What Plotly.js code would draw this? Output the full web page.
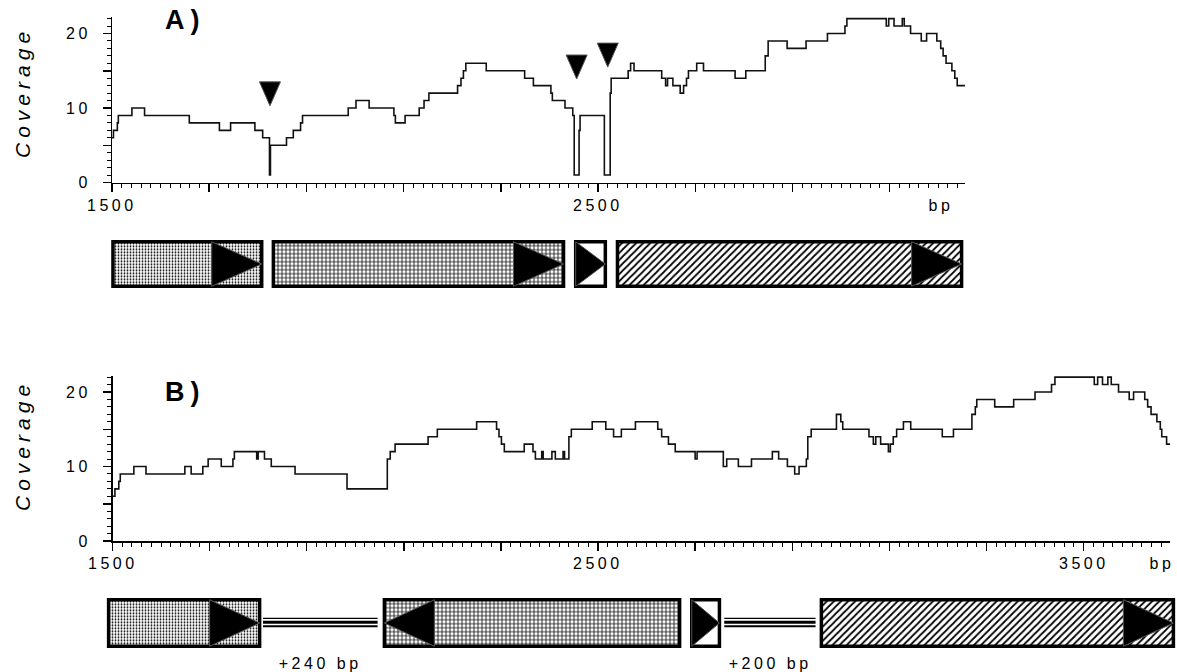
<!DOCTYPE html>
<html>
<head>
<meta charset="utf-8">
<script src="https://cdn.plot.ly/plotly-3.0.1.min.js"></script>
<style>
html,body{margin:0;padding:0;background:#fff;}
#chart{width:1177px;height:672px;}
.annotation text{letter-spacing:3.5px;}
.annotation[data-index="0"] text,.annotation[data-index="1"] text{letter-spacing:6px;}
.annotation[data-index="2"] text,.annotation[data-index="3"] text{letter-spacing:5px;}
</style>
</head>
<body>
<div id="chart"></div>
<script>
// ---------------- DATA ----------------
// Panel A coverage: step start position (bp) and coverage value
const topPos = [1500,1503,1511,1513,1541,1567,1659,1721,1744,1794,1810,1824,1826,1859,1873,1888,1892,1986,2002,2029,2080,2083,2103,2132,2142,2152,2211,2218,2223,2228,2270,2349,2367,2403,2406,2432,2448,2451,2461,2463,2513,2525,2527,2562,2567,2574,2631,2639,2643,2654,2669,2676,2682,2686,2703,2717,2782,2804,2844,2850,2889,2928,2972,3008,3012,3093,3098,3109,3126,3130,3143,3165,3176,3197,3205,3210,3216,3228,3234,3239,3255];
const topCov = [6,7,8,9,10,9,8,7,8,7,6,1,5,6,7,8,9,10,11,10,9,8,9,10,11,12,13,14,15,16,15,14,13,12,11,10,9,1,7,9,1,12,14,15,16,15,14,13,14,13,12,13,14,15,16,15,14,15,17,19,18,19,20,21,22,21,22,21,22,21,20,19,20,19,18,17,16,15,14,13,13];

// Panel B coverage
const botPos = [1500,1505,1513,1516,1544,1569,1649,1662,1686,1697,1724,1748,1751,1797,1800,1813,1827,1876,1983,2066,2072,2082,2150,2169,2250,2291,2296,2301,2307,2348,2366,2371,2384,2387,2405,2412,2428,2431,2440,2445,2488,2516,2532,2548,2577,2623,2631,2645,2659,2700,2704,2758,2765,2789,2816,2859,2872,2890,2905,2914,2929,2932,2939,2991,3000,3004,3058,3067,3072,3082,3098,3102,3108,3115,3129,3144,3209,3232,3270,3277,3280,3317,3356,3400,3434,3441,3522,3529,3539,3550,3557,3572,3594,3603,3626,3632,3639,3651,3658,3661,3671,3678];
const botCov = [6,7,8,9,10,9,10,9,10,11,10,11,12,11,12,11,10,9,7,11,12,13,14,15,16,15,14,13,12,13,12,11,12,11,12,11,12,11,14,15,16,15,14,15,16,15,14,13,12,11,12,10,11,10,11,12,11,10,9,10,11,14,15,17,16,15,14,13,14,13,12,13,14,15,16,15,14,15,17,18,19,18,19,20,21,22,21,22,21,22,21,20,19,20,19,18,17,16,15,14,13,13];

// axis ticks
const topTickVals = [1500,1700,1900,2100,2300,2500,2700,2900,3100];
const topTickText = ['1500','','','','','2500','','',''];
const botTickVals = [1500,1700,1900,2100,2300,2500,2700,2900,3100,3300,3500];
const botTickText = ['1500','','','','','2500','','','','','3500'];
const yTickVals = [0,5,10,15,20];
const yTickText = ['0','','10','','20'];
const unitLabel = 'bp';
const yTitle = 'Coverage';
const panelLabels = ['A)','B)'];

// events marked with arrowheads in panel A (position bp, coverage level)
const eventPos = [1825, 2456, 2520];
const eventCov = [11.9, 15.5, 17.1];

// genes (bp), strand +1 forward / -1 reverse
const topGeneStart = [1502, 1832, 2454, 2540];
const topGeneEnd   = [1808, 2429, 2515, 3248];
const topGeneStrand = [1, 1, 1, 1];
const botGeneStart = [1492, 2060, 2693, 2960];
const botGeneEnd   = [1803, 2668, 2750, 3685];
const botGeneStrand = [1, -1, 1, 1];
// insertions in panel B
const insertStart = [1810, 2760];
const insertEnd   = [2046, 2948];
const insertLabels = ['+240 bp', '+200 bp'];

// ---------------- STYLE / GEOMETRY ----------------
const W = 1177, H = 672;
const FONT = 'Liberation Sans, Arial, Helvetica, sans-serif';
const genePattern = [
  {shape:'.', size:3, solidity:0.3},
  {shape:'+', size:4, solidity:0.35},
  {shape:'', size:4, solidity:0.3},
  {shape:'/', size:5, solidity:0.35}
];
const A = {x0:112, x1:965, xmin:1500, xmax:3255, yZero:182.5, unit:7.45, ymax:22.2, xlab:205, ylabRight:92.5};
const B = {x0:112.5, x1:1170, xmin:1500, xmax:3678, yZero:541, unit:7.45, ymax:22.2, xlab:563, ylabRight:93};
const aPxPerBp = (A.x1 - A.x0) / (A.xmax - A.xmin);
const bPxPerBp = (B.x1 - B.x0) / (B.xmax - B.xmin);
function pyd(px){ return 1 - px / H; }

const ARROW_PX = 50;
const TRI_HW = 10.5, TRI_HH = 12;

const rowA = {top:241.75, bot:286.25, pad:6};
const rowB = {top:599.75, bot:646.25, pad:6};
function rowRange(r){ const h=(r.bot-r.top), full=h+2*r.pad; return [-full/h/2, full/h/2]; }
function rowDomain(r){ return [pyd(r.bot + r.pad), pyd(r.top - r.pad)]; }

// ---------------- TRACES ----------------
const traces = [];
traces.push({type:'scatter', mode:'lines', x:topPos, y:topCov, xaxis:'x', yaxis:'y',
  line:{shape:'hv', color:'#111', width:1.6}, hoverinfo:'skip'});
traces.push({type:'scatter', mode:'lines', x:botPos, y:botCov, xaxis:'x2', yaxis:'y2',
  line:{shape:'hv', color:'#111', width:1.6}, hoverinfo:'skip'});

(function(){
  const hw = TRI_HW / aPxPerBp, hh = TRI_HH / A.unit;
  const xs = [], ys = [];
  eventPos.forEach((p,i) => {
    const c = eventCov[i];
    xs.push(p-hw, p+hw, p, p-hw, null);
    ys.push(c+hh, c+hh, c-hh, c+hh, null);
  });
  traces.push({type:'scatter', mode:'lines', x:xs, y:ys, xaxis:'x', yaxis:'y',
    fill:'toself', fillcolor:'#000', line:{color:'#555', width:1}, hoverinfo:'skip'});
})();

function geneTraces(starts, ends, strands, xa, ya, pxPerBp){
  const out = [];
  out.push({type:'bar', orientation:'h', xaxis:xa, yaxis:ya,
    y: starts.map(()=>0), base: starts, x: starts.map((s,i)=>ends[i]-s),
    width: starts.map(()=>1),
    marker:{color:'#fff',
      line:{color:'#000', width:3.5},
      pattern:{shape: genePattern.map(p=>p.shape), size: genePattern.map(p=>p.size),
               solidity: genePattern.map(p=>p.solidity), fgcolor:'#000', bgcolor:'#fff', fillmode:'replace'}},
    hoverinfo:'skip'});
  const L = ARROW_PX / pxPerBp;
  const xs = [], ys = [];
  starts.forEach((s,i) => {
    const e = ends[i];
    const len = Math.min(L, (e - s));
    if (strands[i] > 0) {
      xs.push(e-len, e-len, e, e-len, null); ys.push(-0.5, 0.5, 0, -0.5, null);
    } else {
      xs.push(s+len, s+len, s, s+len, null); ys.push(-0.5, 0.5, 0, -0.5, null);
    }
  });
  out.push({type:'scatter', mode:'lines', x:xs, y:ys, xaxis:xa, yaxis:ya,
    fill:'toself', fillcolor:'#000', line:{color:'#555', width:1}, hoverinfo:'skip'});
  return out;
}
traces.push(...geneTraces(topGeneStart, topGeneEnd, topGeneStrand, 'x3', 'y3', aPxPerBp));
traces.push(...geneTraces(botGeneStart, botGeneEnd, botGeneStrand, 'x4', 'y4', bPxPerBp));

[[0.10,1.2],[0.015,3],[-0.07,1.8]].forEach(([off,w]) => {
  const xs = [], ys = [];
  insertStart.forEach((s,i)=>{ xs.push(s, insertEnd[i], null); ys.push(off, off, null); });
  traces.push({type:'scatter', mode:'lines', x:xs, y:ys, xaxis:'x4', yaxis:'y4',
    line:{color:'#000', width:w}, hoverinfo:'skip'});
});

// ---------------- LAYOUT ----------------
const tickFont = {family:FONT, size:16, color:'#000'};
function xAxis(P, vals, anchor){
  return {domain:[P.x0/W, P.x1/W], range:[P.xmin, P.xmax], anchor:anchor,
    showline:true, linecolor:'#000', linewidth:1.5, showgrid:false, zeroline:false,
    ticks:'outside', ticklen:8, tickwidth:1.5, tickcolor:'#000',
    tickmode:'array', tickvals:vals, showticklabels:false,
    minor:{ticks:'outside', ticklen:4, tickwidth:1, tickcolor:'#000', tick0:1500, dtick:20, showgrid:false},
    fixedrange:true};
}
function yAxis(P, anchor){
  return {domain:[pyd(P.yZero), pyd(P.yZero - P.ymax*P.unit)], range:[0, P.ymax], anchor:anchor,
    showline:true, linecolor:'#000', linewidth:1.5, showgrid:false, zeroline:false,
    ticks:'outside', ticklen:8, tickwidth:1.5, tickcolor:'#000',
    tickmode:'array', tickvals:yTickVals, showticklabels:false,
    minor:{ticks:'outside', ticklen:4, tickwidth:1, tickcolor:'#000', tick0:0, dtick:1, showgrid:false},
    fixedrange:true};
}
function geneX(P){
  const k = (P.x1-P.x0)/(P.xmax-P.xmin);
  return {domain:[0,1], range:[P.xmin - P.x0/k, P.xmin + (W-P.x0)/k], visible:false, fixedrange:true};
}

function ann(o){ return Object.assign({showarrow:false, xanchor:'center', yanchor:'middle'}, o); }
const annotations = [
  ann({text:panelLabels[0], xref:'paper', yref:'paper', x:186/W, y:pyd(20),
   font:{family:FONT, size:27, color:'#000', weight:'bold'}}),
  ann({text:panelLabels[1], xref:'paper', yref:'paper', x:186/W, y:pyd(392),
   font:{family:FONT, size:27, color:'#000', weight:'bold'}}),
  ann({text:yTitle, xref:'paper', yref:'paper', x:22/W, y:pyd(93), textangle:-90,
   font:{family:FONT, size:21, color:'#000', style:'italic'}}),
  ann({text:yTitle, xref:'paper', yref:'paper', x:22/W, y:pyd(446), textangle:-90,
   font:{family:FONT, size:21, color:'#000', style:'italic'}}),
  ann({text:unitLabel, xref:'x', yref:'paper', x:3205, y:pyd(A.xlab), font:tickFont}),
  ann({text:unitLabel, xref:'x2', yref:'paper', x:3662, y:pyd(B.xlab), font:tickFont})
];
// tick labels (drawn as text at the tick values)
[[topTickVals, topTickText, 'x', A], [botTickVals, botTickText, 'x2', B]].forEach(([vals, txt, xr, P]) => {
  vals.forEach((v,i) => { if (txt[i]) annotations.push(ann({text:txt[i], xref:xr, yref:'paper', x:v, y:pyd(P.xlab), font:tickFont})); });
});
[['y', A], ['y2', B]].forEach(([yr, P]) => {
  yTickVals.forEach((v,i) => { if (yTickText[i]) annotations.push(ann({text:yTickText[i], xref:'paper', yref:yr,
    x:P.ylabRight/W, y:v, xanchor:'right', align:'right', width:40, font:tickFont})); });
});
insertLabels.forEach((t,i) => {
  annotations.push(ann({text:t, xref:'x4', yref:'paper', x:(insertStart[i]+insertEnd[i])/2, y:pyd(663),
    font:tickFont}));
});

const layout = {
  width:W, height:H, margin:{l:0, r:0, t:0, b:0},
  paper_bgcolor:'#fff', plot_bgcolor:'rgba(0,0,0,0)', showlegend:false,
  barmode:'overlay',
  xaxis: xAxis(A, topTickVals, 'y'),
  yaxis: yAxis(A, 'x'),
  xaxis2: xAxis(B, botTickVals, 'y2'),
  yaxis2: yAxis(B, 'x2'),
  xaxis3: Object.assign(geneX(A), {anchor:'y3'}),
  yaxis3: {domain:rowDomain(rowA), range:rowRange(rowA), visible:false, anchor:'x3', fixedrange:true},
  xaxis4: Object.assign(geneX(B), {anchor:'y4'}),
  yaxis4: {domain:rowDomain(rowB), range:rowRange(rowB), visible:false, anchor:'x4', fixedrange:true},
  annotations: annotations
};

Plotly.newPlot('chart', traces, layout, {displayModeBar:false, staticPlot:true});
</script>
</body>
</html>
